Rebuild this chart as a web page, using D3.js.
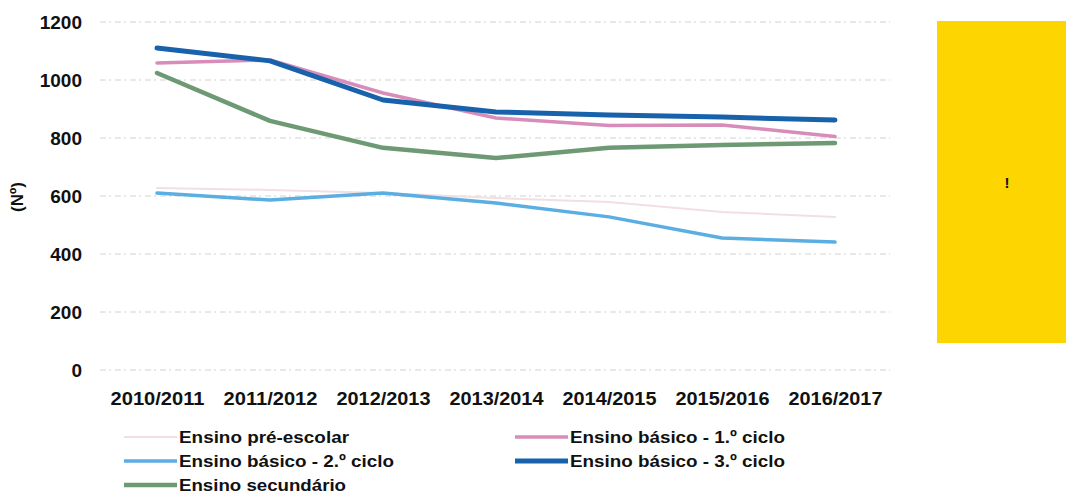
<!DOCTYPE html>
<html>
<head>
<meta charset="utf-8">
<script src="https://cdn.jsdelivr.net/npm/d3@7"></script>
<style>
  html, body { margin: 0; padding: 0; background: #fff; }
  svg { display: block; }
  text { font-family: "Liberation Sans", Arial, sans-serif; font-weight: bold; fill: #111; }
</style>
</head>
<body>
<svg id="chart" width="1066" height="497"></svg>
<script>
// School years on the x axis
const years = ["2010/2011", "2011/2012", "2012/2013", "2013/2014", "2014/2015", "2015/2016", "2016/2017"];
const yTicks = [0, 200, 400, 600, 800, 1000, 1200];

// Number of pupils per level of education
const preEscolar   = [628, 621, 610, 593, 579, 545, 528];
const basico1      = [1059, 1069, 955, 869, 843, 845, 805];
const basico2      = [610, 586, 610, 576, 528, 455, 441];
const basico3      = [1110, 1066, 931, 890, 879, 872, 862];
const secundario   = [1024, 859, 766, 731, 766, 776, 783];

const seriesNames  = ["Ensino pré-escolar", "Ensino básico - 1.º ciclo", "Ensino básico - 2.º ciclo",
                      "Ensino básico - 3.º ciclo", "Ensino secundário"];
// Printed widths of the legend labels
const legendWidths = [170, 215, 215, 215, 167];

const series = [
  { id: 0, values: preEscolar, color: "#f2dfe2", width: 2 },
  { id: 2, values: basico2,    color: "#5baee2", width: 3.5 },
  { id: 4, values: secundario, color: "#6d9a74", width: 4.5 },
  { id: 1, values: basico1,    color: "#d88cba", width: 3.5 },
  { id: 3, values: basico3,    color: "#1862ac", width: 5 }
];
const byId = id => series.find(s => s.id === id);

const svg = d3.select("#chart");

const x = d3.scalePoint().domain(years).range([157, 835]);
const y = d3.scaleLinear().domain([0, 1200]).range([370, 22]);

// Faint dashed gridlines
svg.append("g")
  .selectAll("line")
  .data(yTicks)
  .join("line")
  .attr("x1", 100).attr("x2", 890)
  .attr("y1", d => y(d)).attr("y2", d => y(d))
  .attr("stroke", "#d2d2d2")
  .attr("stroke-width", 1)
  .attr("stroke-dasharray", "6,3,2,4");

// Y axis tick labels
const yAxis = d3.axisLeft(y).tickValues(yTicks).tickSize(0).tickPadding(0).tickFormat(d3.format("d"));
const gy = svg.append("g").attr("transform", "translate(82,0)").call(yAxis);
gy.select(".domain").remove();
gy.selectAll("text")
  .attr("font-size", 19).attr("font-family", "Liberation Sans, Arial, sans-serif")
  .attr("font-weight", "bold").attr("fill", "#111");

// X axis labels
const xAxis = d3.axisBottom(x).tickSize(0).tickPadding(0);
const gx = svg.append("g").attr("transform", "translate(0,391)").call(xAxis);
gx.select(".domain").remove();
gx.selectAll("text")
  .attr("font-size", 19).attr("font-family", "Liberation Sans, Arial, sans-serif")
  .attr("font-weight", "bold").attr("fill", "#111")
  .attr("textLength", 94).attr("lengthAdjust", "spacingAndGlyphs");

// Y axis title
svg.append("text")
  .attr("transform", "translate(23,197) rotate(-90)")
  .attr("text-anchor", "middle")
  .attr("font-size", 17)
  .text("(Nº)");

// Series lines
const line = d3.line()
  .x((d, i) => x(years[i]))
  .y(d => y(d))
  .curve(d3.curveLinear);

svg.append("g")
  .selectAll("path")
  .data(series)
  .join("path")
  .attr("d", d => line(d.values))
  .attr("fill", "none")
  .attr("stroke", d => d.color)
  .attr("stroke-width", d => d.width)
  .attr("stroke-linecap", "round")
  .attr("stroke-linejoin", "round");

// Legend, two columns
const legendItems = [
  { id: 0, x: 124, y: 437 },
  { id: 1, x: 515, y: 437 },
  { id: 2, x: 124, y: 461 },
  { id: 3, x: 515, y: 461 },
  { id: 4, x: 124, y: 485 }
];
const lg = svg.append("g").selectAll("g").data(legendItems).join("g")
  .attr("transform", d => `translate(${d.x},${d.y})`);
lg.append("line")
  .attr("x1", 0).attr("x2", 53).attr("y1", 0).attr("y2", 0)
  .attr("stroke", d => byId(d.id).color)
  .attr("stroke-width", d => byId(d.id).width);
lg.append("text")
  .attr("x", 55).attr("y", 6)
  .attr("font-size", 17)
  .attr("textLength", d => legendWidths[d.id])
  .attr("lengthAdjust", "spacingAndGlyphs")
  .text(d => seriesNames[d.id]);

// Yellow note panel
svg.append("rect")
  .attr("x", 937).attr("y", 21).attr("width", 129).attr("height", 322)
  .attr("fill", "#fdd500");
svg.append("text")
  .attr("x", 1007).attr("y", 188)
  .attr("text-anchor", "middle")
  .attr("font-size", 15)
  .text("!");
</script>
</body>
</html>
